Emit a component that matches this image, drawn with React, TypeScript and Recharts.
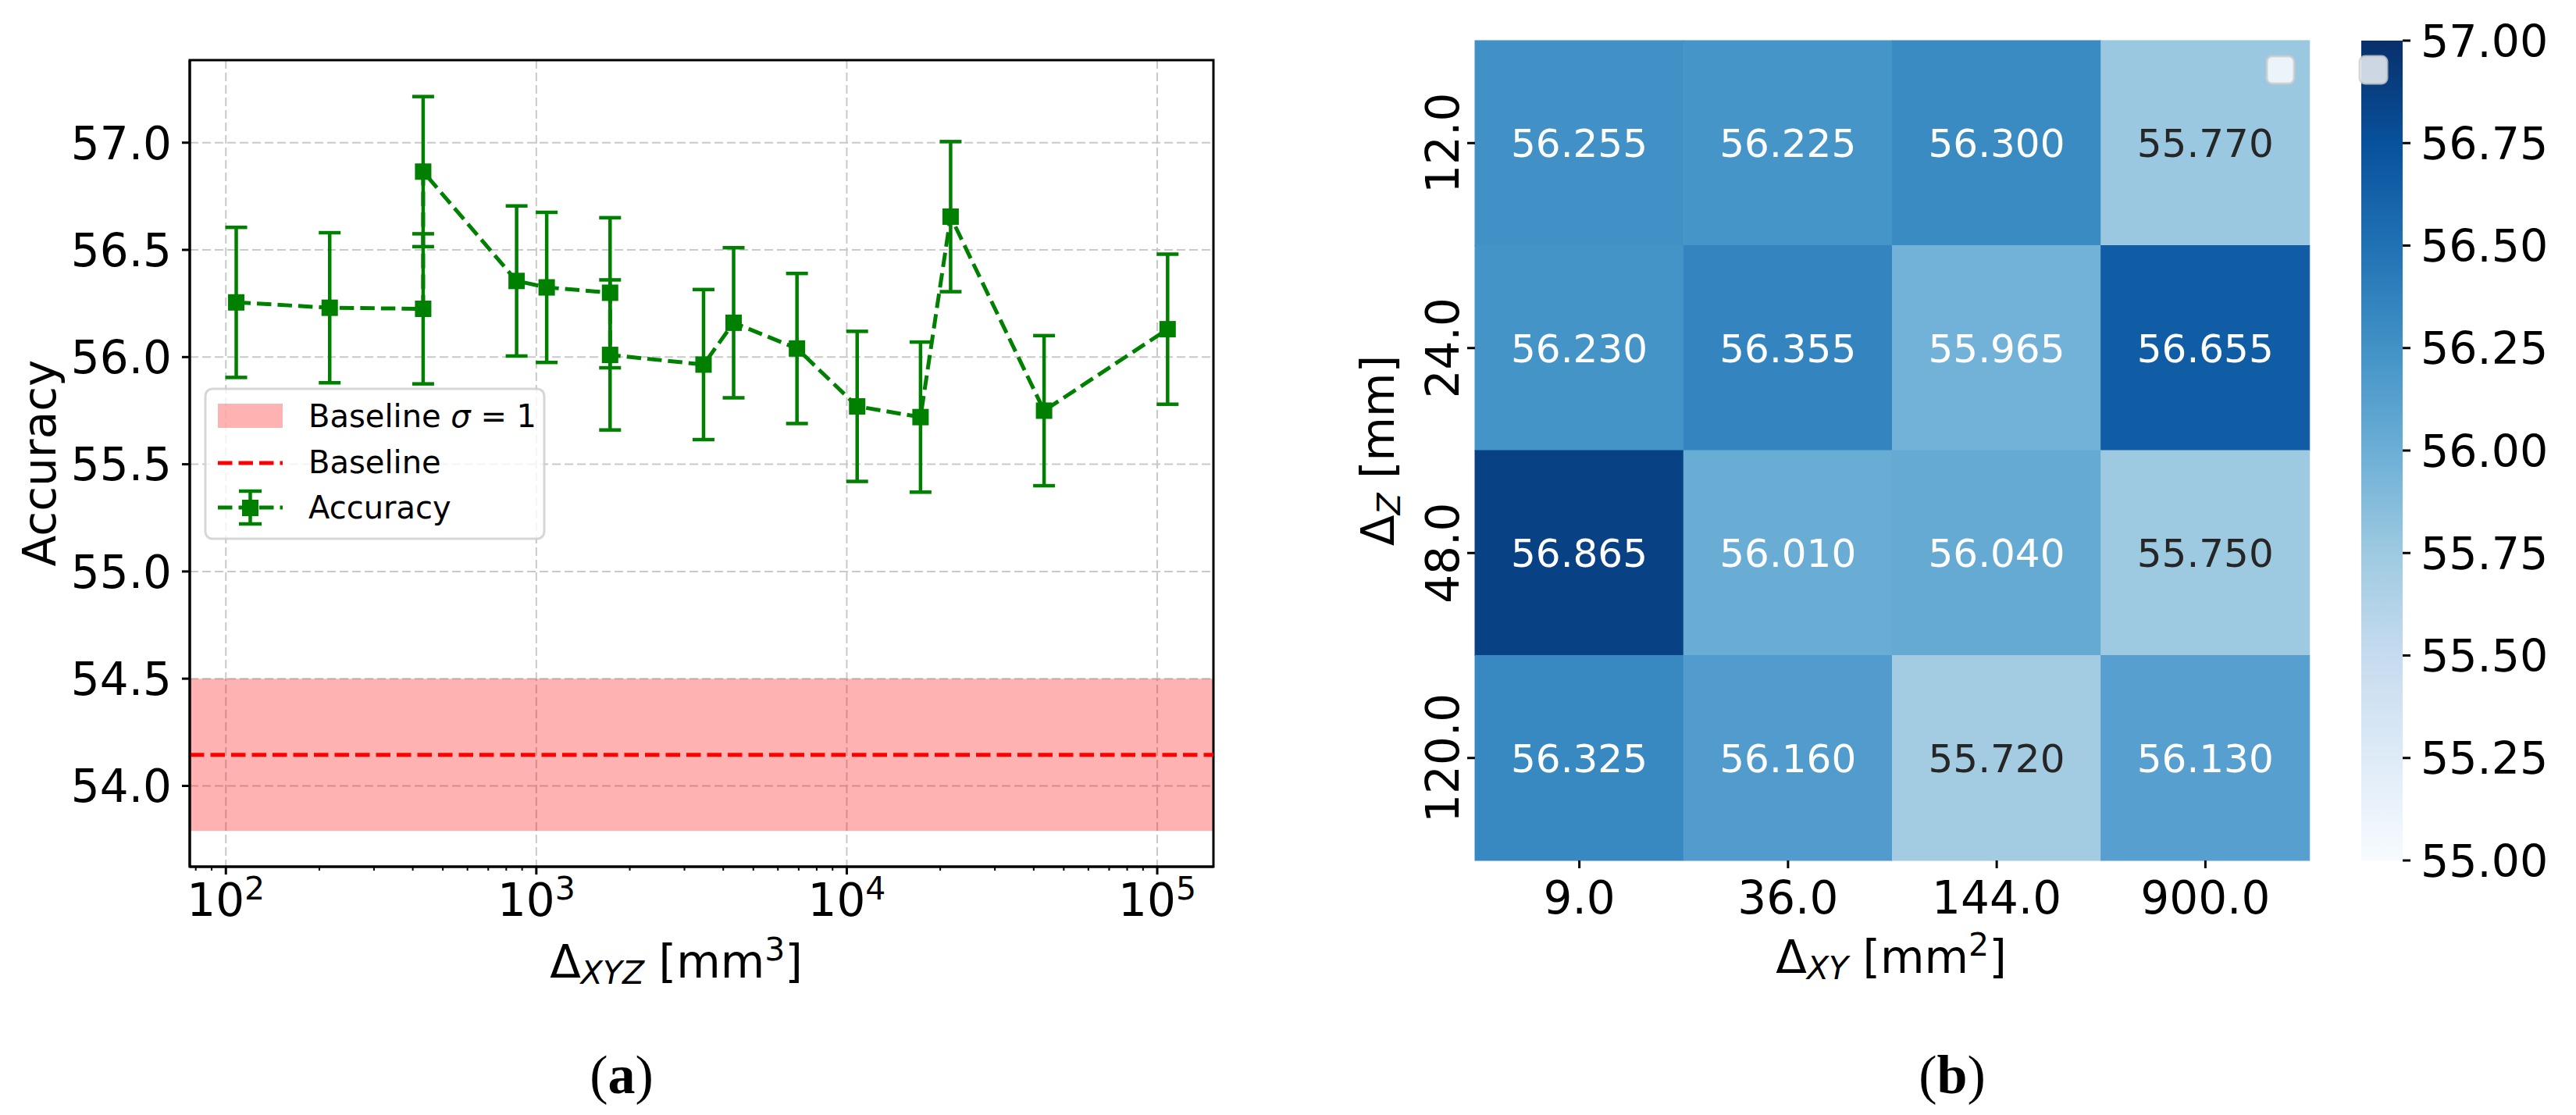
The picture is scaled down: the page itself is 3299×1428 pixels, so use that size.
import React from 'react';
import {
  ComposedChart,
  Line,
  ErrorBar,
  XAxis,
  YAxis,
  CartesianGrid,
  ReferenceArea,
  ReferenceLine,
  BarChart,
  Bar,
} from 'recharts';

const FONT = '"DejaVu Sans", "Noto Sans", sans-serif';
const SERIF = '"Liberation Serif", "DejaVu Serif", serif';

// (a) accuracy vs voxel volume, sorted by volume
const volumes = [108, 216, 432, 432, 864, 1080, 1728, 1728, 3456, 4320, 6912, 10800, 17280, 21600, 43200, 108000];
const accuracy = [56.255, 56.23, 56.225, 56.865, 56.355, 56.325, 56.3, 56.01, 55.965, 56.16, 56.04, 55.77, 55.72, 56.655, 55.75, 56.13];
const accuracyStd = [0.35, 0.35, 0.35, 0.35, 0.35, 0.35, 0.35, 0.35, 0.35, 0.35, 0.35, 0.35, 0.35, 0.35, 0.35, 0.35];
const baselineMean = 54.145;
const baselineStd = 0.355;
const accTicks = [54.0, 54.5, 55.0, 55.5, 56.0, 56.5, 57.0];
const decades = [100, 1000, 10000, 100000];
const minorTicks = [
  80, 90,
  200, 300, 400, 500, 600, 700, 800, 900,
  2000, 3000, 4000, 5000, 6000, 7000, 8000, 9000,
  20000, 30000, 40000, 50000, 60000, 70000, 80000, 90000,
];
const volDomain = [76.5, 151700];
const accDomain = [53.623, 57.385];

// (b) heatmap: rows = delta z, columns = delta xy
const xyAreas = ['9.0', '36.0', '144.0', '900.0'];
const zSteps = ['12.0', '24.0', '48.0', '120.0'];
const accZ12 = [56.255, 56.225, 56.3, 55.77];
const accZ24 = [56.23, 56.355, 55.965, 56.655];
const accZ48 = [56.865, 56.01, 56.04, 55.75];
const accZ120 = [56.325, 56.16, 55.72, 56.13];
const cbarTicks = [55, 55.25, 55.5, 55.75, 56, 56.25, 56.5, 56.75, 57];
const cbarMin = 55;
const cbarMax = 57;
const cellSpan = 1;

const BLUES = ['#f7fbff', '#deebf7', '#c6dbef', '#9ecae1', '#6baed6', '#4292c6', '#2171b5', '#08519c', '#08306b'];

const hexRgb = (h: string) => [1, 3, 5].map((i) => parseInt(h.slice(i, i + 2), 16));

function bluesRgb(t: number) {
  const s = Math.max(0, Math.min(1, t)) * 8;
  const i = Math.min(7, Math.floor(s));
  const f = s - i;
  const a = hexRgb(BLUES[i]);
  const b = hexRgb(BLUES[i + 1]);
  return a.map((v, k) => v + (b[k] - v) * f);
}

function blues(t: number) {
  const c = bluesRgb(t).map(Math.round);
  return `rgb(${c[0]},${c[1]},${c[2]})`;
}

// seaborn picks the annotation colour from the cell luminance
function textOn(t: number) {
  const lin = bluesRgb(t).map((v) => {
    const c = v / 255;
    return c <= 0.03928 ? c / 12.92 : Math.pow((c + 0.055) / 1.055, 2.4);
  });
  const lum = 0.2126 * lin[0] + 0.7152 * lin[1] + 0.0722 * lin[2];
  return lum > 0.408 ? '#262626' : '#ffffff';
}

const lineData = volumes.map((v, i) => ({ volume: v, acc: accuracy[i], std: accuracyStd[i] }));

const heatRows = [accZ12, accZ24, accZ48, accZ120];
const heatData = xyAreas.map((xy, c) => {
  const row: any = { xy };
  zSteps.forEach((z, r) => {
    row[z] = heatRows[r][c];
    row[`span_${z}`] = cellSpan;
  });
  return row;
});

const cbarData = [{ name: 'cbar', range: [cbarMin, cbarMax] }];

const LogTick = (p: any) => {
  const v = p.payload.value;
  const major = decades.includes(v);
  return (
    <g>
      <line x1={p.x} x2={p.x} y1={p.y} y2={p.y + (major ? 10 : 5)} stroke="#000" strokeWidth={major ? 3 : 2} />
      {major && (
        <text x={p.x} y={p.y + 63} textAnchor="middle" fontSize={58} fontFamily={FONT} fill="#000">
          10
          <tspan dy={-21} fontSize={41}>{Math.round(Math.log10(v))}</tspan>
        </text>
      )}
    </g>
  );
};

const AccTick = (p: any) => (
  <g>
    <line x1={p.x - 10} x2={p.x} y1={p.y} y2={p.y} stroke="#000" strokeWidth={3} />
    <text x={p.x - 23} y={p.y} dy="0.36em" textAnchor="end" fontSize={58} fontFamily={FONT} fill="#000">
      {Number(p.payload.value).toFixed(1)}
    </text>
  </g>
);

const HeatXTick = (p: any) => (
  <g>
    <line x1={p.x} x2={p.x} y1={p.y} y2={p.y + 10} stroke="#000" strokeWidth={3} />
    <text x={p.x} y={p.y + 68} textAnchor="middle" fontSize={58} fontFamily={FONT} fill="#000">
      {p.payload.value}
    </text>
  </g>
);

const HeatYTick = (p: any) => {
  const label = zSteps[Math.floor(p.payload.value)];
  const bx = p.x - 21;
  return (
    <g>
      <line x1={p.x - 10} x2={p.x} y1={p.y} y2={p.y} stroke="#000" strokeWidth={3} />
      <text x={bx} y={p.y} transform={`rotate(-90 ${bx} ${p.y})`} textAnchor="middle" fontSize={58} fontFamily={FONT} fill="#000">
        {label}
      </text>
    </g>
  );
};

const CbarTick = (p: any) => (
  <g>
    <line x1={p.x} x2={p.x + 10} y1={p.y} y2={p.y} stroke="#000" strokeWidth={3} />
    <text x={p.x + 23} y={p.y} dy="0.36em" textAnchor="start" fontSize={57} fontFamily={FONT} fill="#000">
      {Number(p.payload.value).toFixed(2)}
    </text>
  </g>
);

const squareDot = (p: any) => (
  <rect key={`sq-${p.index}`} x={p.cx - 10.5} y={p.cy - 10.5} width={21} height={21} fill="#008000" />
);

const cellShape = (z: string) => (p: any) => {
  const v = p.payload[z];
  const t = (v - cbarMin) / (cbarMax - cbarMin);
  const fill = blues(t);
  const y0 = Math.min(p.y, p.y + p.height);
  const h = Math.abs(p.height);
  return (
    <g>
      <rect x={p.x} y={y0} width={p.width} height={h} fill={fill} stroke={fill} strokeWidth={1} />
      <text x={p.x + p.width / 2} y={y0 + h / 2} dy="0.36em" textAnchor="middle" fontSize={50} fontFamily={FONT} fill={textOn(t)}>
        {v.toFixed(3)}
      </text>
    </g>
  );
};

export default function App() {
  return (
    <div style={{ position: 'absolute', left: 0, top: 0, width: 3299, height: 1428, background: '#fff', overflow: 'hidden' }}>
      <svg width={0} height={0} style={{ position: 'absolute' }}>
        <defs>
          <linearGradient id="bluesGrad" x1="0" y1="1" x2="0" y2="0">
            {BLUES.map((c, i) => (
              <stop key={c} offset={i / 8} stopColor={c} />
            ))}
          </linearGradient>
        </defs>
      </svg>

      {/* (a) line chart with error bars */}
      <div style={{ position: 'absolute', left: 0, top: 0 }}>
        <ComposedChart width={1650} height={1428} data={lineData} margin={{ top: 77, right: 96, bottom: 218, left: 0 }}>
          <CartesianGrid
            stroke="#c9c9c9"
            strokeWidth={2}
            strokeDasharray="11 5"
            horizontalValues={accTicks}
            verticalValues={decades}
          />
          <XAxis
            dataKey="volume"
            type="number"
            scale="log"
            domain={volDomain}
            allowDataOverflow
            ticks={[...minorTicks, ...decades]}
            interval={0}
            height={100}
            tickSize={0}
            tickMargin={0}
            tickLine={false}
            axisLine={{ stroke: '#000', strokeWidth: 3 }}
            tick={(p: any) => <LogTick {...p} />}
          />
          <YAxis
            type="number"
            domain={accDomain}
            allowDataOverflow
            ticks={accTicks}
            interval={0}
            width={243}
            tickSize={0}
            tickMargin={0}
            tickLine={false}
            axisLine={{ stroke: '#000', strokeWidth: 3 }}
            tick={(p: any) => <AccTick {...p} />}
          />
          <ReferenceArea
            y1={baselineMean - baselineStd}
            y2={baselineMean + baselineStd}
            fill="#ff0000"
            fillOpacity={0.3}
            stroke="none"
          />
          <ReferenceLine y={baselineMean} stroke="#ff0000" strokeWidth={5} strokeDasharray="18.5 8" />
          <Line
            dataKey="acc"
            stroke="#008000"
            strokeWidth={5}
            strokeDasharray="18.5 8"
            dot={squareDot}
            activeDot={false}
            isAnimationActive={false}
          >
            <ErrorBar dataKey="std" width={14} stroke="#008000" strokeWidth={4.5} direction="y" isAnimationActive={false} />
          </Line>
          <ReferenceArea
            x1={volDomain[0]}
            x2={volDomain[1]}
            y1={accDomain[0]}
            y2={accDomain[1]}
            ifOverflow="visible"
            fill="none"
            fillOpacity={0}
            stroke="#000"
            strokeWidth={3}
            strokeOpacity={1}
          />
        </ComposedChart>
      </div>

      {/* (b) heatmap */}
      <div style={{ position: 'absolute', left: 1650, top: 0 }}>
        <BarChart
          width={1350}
          height={1428}
          data={heatData}
          margin={{ top: 52, right: 42, bottom: 206, left: 0 }}
          barCategoryGap={0}
          barGap={0}
        >
          <XAxis
            dataKey="xy"
            type="category"
            height={120}
            tickSize={0}
            tickMargin={0}
            tickLine={false}
            axisLine={false}
            interval={0}
            tick={(p: any) => <HeatXTick {...p} />}
          />
          <YAxis
            type="number"
            domain={[0, 4]}
            reversed
            ticks={[0.5, 1.5, 2.5, 3.5]}
            interval={0}
            width={239}
            tickSize={0}
            tickMargin={0}
            tickLine={false}
            axisLine={false}
            tick={(p: any) => <HeatYTick {...p} />}
          />
          {zSteps.map((z) => (
            <Bar
              key={z}
              dataKey={`span_${z}`}
              stackId="cells"
              shape={cellShape(z)}
              isAnimationActive={false}
            />
          ))}
        </BarChart>
      </div>

      {/* colour bar */}
      <div style={{ position: 'absolute', left: 3000, top: 0 }}>
        <BarChart
          width={299}
          height={1428}
          data={cbarData}
          margin={{ top: 52, right: 0, bottom: 326, left: 24 }}
          barCategoryGap={0}
        >
          <XAxis dataKey="name" type="category" hide />
          <YAxis
            orientation="right"
            type="number"
            domain={[cbarMin, cbarMax]}
            ticks={cbarTicks}
            interval={0}
            width={222}
            tickSize={0}
            tickMargin={0}
            tickLine={false}
            axisLine={false}
            tick={(p: any) => <CbarTick {...p} />}
          />
          <Bar dataKey="range" fill="url(#bluesGrad)" isAnimationActive={false} />
        </BarChart>
      </div>

      {/* titles, legend, captions */}
      <svg width={3299} height={1428} style={{ position: 'absolute', left: 0, top: 0, pointerEvents: 'none' }}>
        <g fontFamily={FONT} fill="#000">
          <text x={71} y={593} transform="rotate(-90 71 593)" textAnchor="middle" fontSize={58}>Accuracy</text>
          <text x={866} y={1252} textAnchor="middle" fontSize={58}>
            Δ
            <tspan dy={8} fontSize={41} fontStyle="italic">XYZ</tspan>
            <tspan dy={-8}> [mm</tspan>
            <tspan dy={-22} fontSize={41}>3</tspan>
            <tspan dy={22}>]</tspan>
          </text>

          <text x={1785} y={577} transform="rotate(-90 1785 577)" textAnchor="middle" fontSize={58}>
            Δ
            <tspan dy={8} fontSize={41} fontStyle="italic">Z</tspan>
            <tspan dy={-8}> [mm]</tspan>
          </text>
          <text x={2422} y={1246} textAnchor="middle" fontSize={58}>
            Δ
            <tspan dy={8} fontSize={41} fontStyle="italic">XY</tspan>
            <tspan dy={-8}> [mm</tspan>
            <tspan dy={-22} fontSize={41}>2</tspan>
            <tspan dy={22}>]</tspan>
          </text>
        </g>

        {/* legend of (a) */}
        <rect x={263} y={498} width={434} height={192} rx={9} fill="#ffffff" fillOpacity={0.8} stroke="#cccccc" strokeOpacity={0.8} strokeWidth={3} />
        <rect x={279} y={517} width={83} height={31} fill="#ff0000" fillOpacity={0.3} />
        <line x1={279} x2={362} y1={593} y2={593} stroke="#ff0000" strokeWidth={5} strokeDasharray="18.5 8" />
        <line x1={279} x2={362} y1={650} y2={650} stroke="#008000" strokeWidth={5} strokeDasharray="18.5 8" />
        <line x1={320.5} x2={320.5} y1={629} y2={671} stroke="#008000" strokeWidth={4.5} />
        <line x1={306} x2={335} y1={629} y2={629} stroke="#008000" strokeWidth={4.5} />
        <line x1={306} x2={335} y1={671} y2={671} stroke="#008000" strokeWidth={4.5} />
        <rect x={310} y={640} width={21} height={21} fill="#008000" />
        <g fontFamily={FONT} fontSize={40} fill="#000">
          <text x={395} y={547}>
            Baseline <tspan fontStyle="italic">σ</tspan> = 1
          </text>
          <text x={395} y={606}>Baseline</text>
          <text x={395} y={664}>Accuracy</text>
        </g>

        {/* empty legends left on the heatmap and colour bar */}
        <rect x={2903} y={72} width={35} height={35} rx={7} fill="#ffffff" fillOpacity={0.8} stroke="#cccccc" strokeOpacity={0.8} strokeWidth={3} />
        <rect x={3022} y={72} width={35} height={35} rx={7} fill="#ffffff" fillOpacity={0.8} stroke="#cccccc" strokeOpacity={0.8} strokeWidth={3} />

        <g fontFamily={SERIF} fontSize={70} fill="#000">
          <text x={796} y={1400} textAnchor="middle">
            (<tspan fontWeight="bold">a</tspan>)
          </text>
          <text x={2500} y={1400} textAnchor="middle">
            (<tspan fontWeight="bold">b</tspan>)
          </text>
        </g>
      </svg>
    </div>
  );
}
